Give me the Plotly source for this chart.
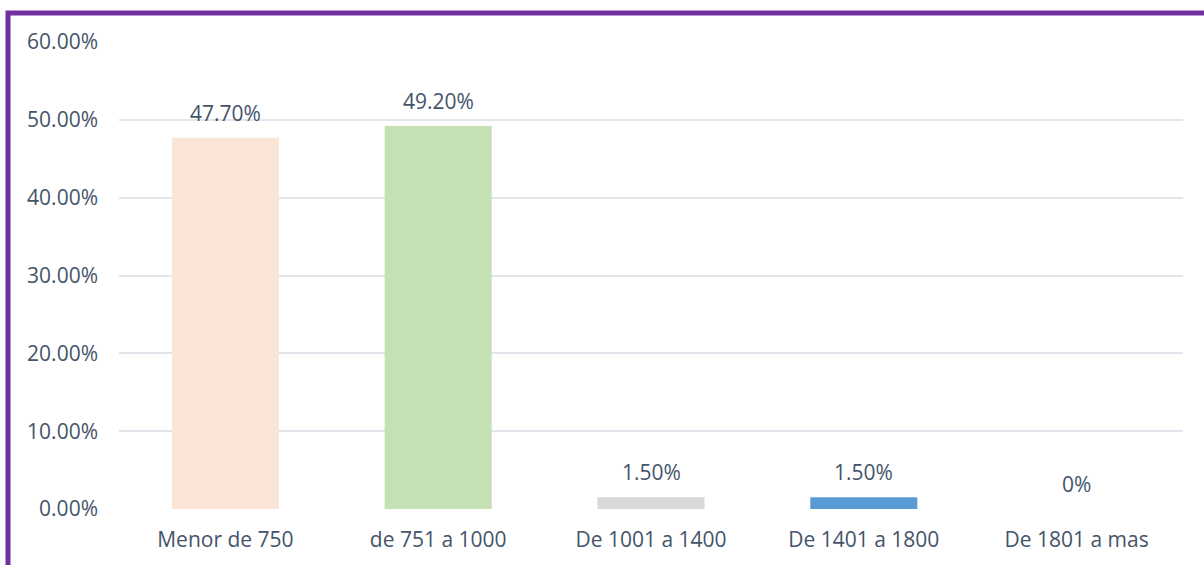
import plotly.graph_objects as go

categories = ["Menor de 750", "de 751 a 1000", "De 1001 a 1400", "De 1401 a 1800", "De 1801 a mas"]
values = [47.70, 49.20, 1.50, 1.50, 0.0]
value_labels = ["47.70%", "49.20%", "1.50%", "1.50%", "0%"]
bar_colors = ["#FBE5D6", "#C5E0B4", "#D9D9D9", "#5B9BD5", "#5B9BD5"]
tick_values = [0, 10, 20, 30, 40, 50, 60]
tick_labels = ["0.00%", "10.00%", "20.00%", "30.00%", "40.00%", "50.00%", "60.00%"]

text_color = "#44546A"
font_family = "'Open Sans', sans-serif"
font_size = 21

fig = go.Figure(
    go.Bar(
        x=categories,
        y=values,
        marker=dict(color=bar_colors, line=dict(width=0)),
        hoverinfo="skip",
    )
)

for cat, val, lab in zip(categories, values, value_labels):
    fig.add_annotation(
        x=cat, y=val, text=lab, showarrow=False,
        yanchor="bottom", yshift=9,
        font=dict(family=font_family, size=font_size, color=text_color),
    )

W, H = 1204, 565
ml, mr, mt, mb = 119, 21, 42, 56
pw, ph = W - ml - mr, H - mt - mb


def px_x(x):
    return (x - ml) / pw


def px_y(y):
    return (H - mb - y) / ph


# purple frame (left and top edges)
fig.add_shape(
    type="path", xref="paper", yref="paper",
    path=f"M {px_x(8)} {px_y(H + 5)} L {px_x(8)} {px_y(13)} L {px_x(W + 5)} {px_y(13)}",
    line=dict(color="#7030A0", width=5),
)

fig.update_layout(
    width=W, height=H,
    margin=dict(l=ml, r=mr, t=mt, b=mb),
    paper_bgcolor="white", plot_bgcolor="white",
    bargap=0.497,
    showlegend=False,
    font=dict(family=font_family, size=font_size, color=text_color),
    xaxis=dict(
        showgrid=False, showline=False, zeroline=False, ticks="",
        ticklabelstandoff=16,
        tickfont=dict(family=font_family, size=font_size, color=text_color),
    ),
    yaxis=dict(
        range=[0, 60], tickvals=tick_values, ticktext=tick_labels,
        showgrid=True, gridcolor="#E1E5EC", gridwidth=2,
        zeroline=False, showline=False, ticks="",
        ticklabelstandoff=20,
        tickfont=dict(family=font_family, size=font_size, color=text_color),
    ),
)

fig.write_html("out.html")
